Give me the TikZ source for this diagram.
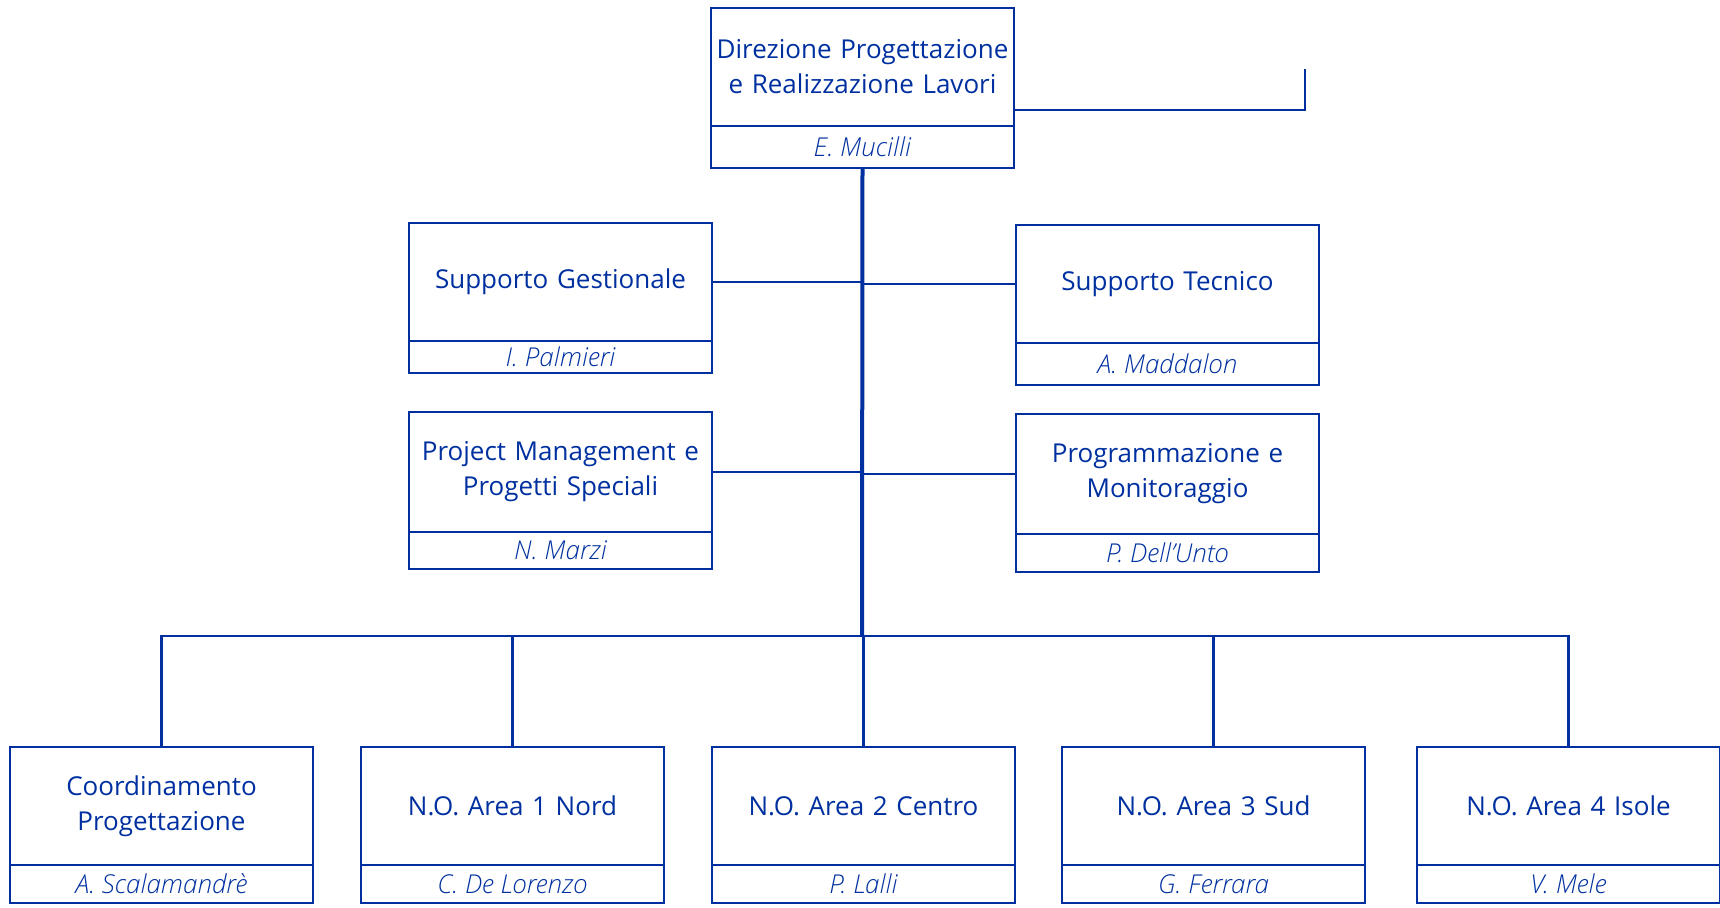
\documentclass[tikz,border=0pt]{standalone}
\usepackage{fontspec}
\setmainfont{Open Sans}
\newfontfamily\namefont{Open Sans Light}[ItalicFont=Open Sans Light Italic]
\usetikzlibrary{positioning}
\definecolor{navy}{RGB}{0,48,160}

\begin{document}
\begin{tikzpicture}[x=0.5pt, y=-0.5pt,
  every node/.style={text=navy},
  head/.style={draw=navy, line width=1.3pt, anchor=north west, align=center,
               minimum width=151.5pt, minimum height=59pt, inner sep=0pt,
               outer sep=0pt, text width=148pt,
               font=\fontsize{13}{17.5}\selectfont},
  who/.style={draw=navy, line width=1.3pt, below=0pt of #1, align=center,
              minimum width=151.5pt, minimum height=19pt, inner sep=0pt,
              outer sep=0pt, font=\fontsize{13}{14}\namefont\itshape},
  link/.style={draw=navy, line width=1.2pt},
  trunk/.style={draw=navy, line width=2pt}]

\useasboundingbox (0,0) rectangle (1720,908);

% ---------- direzione ----------
\node[head] (dir) at (711,8) {Direzione Progettazione\\e Realizzazione Lavori};
\node[who=dir, minimum height=21pt] (dirname) {E. Mucilli};
\coordinate (stub) at (1305,69);
\coordinate (busmid) at (862,636);

% ---------- staff ----------
\node[head] (gest) at (409,223) {Supporto Gestionale};
\node[who=gest, minimum height=16pt] (gestname) {I. Palmieri};
\node[head] (tecn) at (1016,225) {Supporto Tecnico};
\node[who=tecn, minimum height=21pt] (tecnname) {A. Maddalon};
\node[head, minimum height=60pt] (pm) at (409,412) {Project Management e\\Progetti Speciali};
\node[who=pm, minimum height=18.5pt] (pmname) {N. Marzi};
\node[head, minimum height=60pt] (prog) at (1016,414) {Programmazione e\\Monitoraggio};
\node[who=prog, minimum height=19pt] (progname) {P. Dell’Unto};

% ---------- line units ----------
\node[head] (coord) at (10,747) {Coordinamento\\Progettazione};
\node[who=coord] (coordname) {A. Scalamandrè};
\node[head] (nord) at (361,747) {N.O. Area 1 Nord};
\node[who=nord] (nordname) {C. De Lorenzo};
\node[head] (centro) at (712,747) {N.O. Area 2 Centro};
\node[who=centro] (centroname) {P. Lalli};
\node[head] (sud) at (1062,747) {N.O. Area 3 Sud};
\node[who=sud] (sudname) {G. Ferrara};
\node[head] (isole) at (1417,747) {N.O. Area 4 Isole};
\node[who=isole] (isolename) {V. Mele};

% ---------- connectors ----------
\draw[link] ([yshift=-21.5pt]dir.east) -| (stub);
\draw[trunk] (dirname.south) -- (busmid);
\draw[link] (gest.east) -- (gest.east -| busmid);
\draw[link] (pm.east) -- (pm.east -| busmid);
\draw[link] (tecn.west) -- (tecn.west -| busmid);
\draw[link] (prog.west) -- (prog.west -| busmid);
\draw[link] (coord.north) -- (coord.north |- busmid) -- (isole.north |- busmid) -- (isole.north);
\foreach \n in {nord,centro,sud}
  \draw[link] (\n.north) -- (\n.north |- busmid);
\end{tikzpicture}
\end{document}
